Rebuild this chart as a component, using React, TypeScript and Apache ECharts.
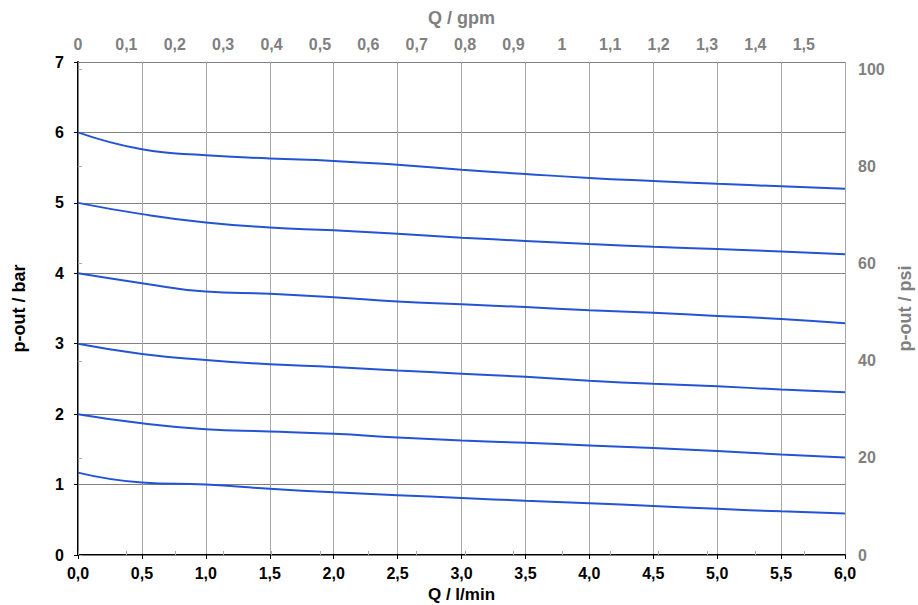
import React, { useEffect, useRef } from "react";
import * as echarts from "echarts";

const flowLpm = [0, 0.5, 1.0, 1.5, 2.0, 2.5, 3.0, 3.5, 4.0, 4.5, 5.0, 5.5, 6.0];
const curve6bar = [6.0, 5.76, 5.675, 5.63, 5.596, 5.54, 5.47, 5.41, 5.354, 5.31, 5.27, 5.235, 5.2];
const curve5bar = [5.0, 4.84, 4.72, 4.65, 4.61, 4.56, 4.505, 4.46, 4.415, 4.377, 4.344, 4.31, 4.27];
const curve4bar = [4.0, 3.86, 3.74, 3.71, 3.66, 3.6, 3.56, 3.52, 3.476, 3.44, 3.395, 3.35, 3.29];
const curve3bar = [3.0, 2.855, 2.77, 2.71, 2.67, 2.62, 2.575, 2.53, 2.475, 2.43, 2.395, 2.35, 2.31];
const curve2bar = [2.0, 1.87, 1.785, 1.755, 1.72, 1.67, 1.627, 1.593, 1.556, 1.518, 1.475, 1.428, 1.385];
const curve1bar = [1.17, 1.03, 1.0, 0.94, 0.89, 0.85, 0.81, 0.77, 0.735, 0.695, 0.655, 0.62, 0.59];
const curves = [curve6bar, curve5bar, curve4bar, curve3bar, curve2bar, curve1bar];

const LPM_PER_GPM = 3.785;
const PSI_PER_BAR = 14.5038;
const X_MAX = 6;
const Y_MAX = 7;

const FONT = "Liberation Sans, Arial, sans-serif";
const GRAY = "#808080";

const comma = (v: number, d: number) => v.toFixed(d).replace(".", ",");

export default function App() {
  const ref = useRef<HTMLDivElement>(null);
  useEffect(() => {
    if (!ref.current) return;
    const chart = echarts.init(ref.current, undefined, { renderer: "svg" });
    chart.setOption({
      animation: false,
      backgroundColor: "#ffffff",
      grid: { left: 78, right: 73, top: 62, bottom: 50, containLabel: false, outerBoundsMode: "none" },
      xAxis: [
        {
          type: "value",
          position: "bottom",
          min: 0,
          max: X_MAX,
          interval: 0.5,
          name: "Q / l/min",
          nameLocation: "middle",
          nameGap: 31,
          nameTextStyle: { fontFamily: FONT, fontWeight: "bold", fontSize: 17, color: "#000" },
          axisLine: { lineStyle: { color: "#000", width: 2 } },
          axisTick: { show: true, inside: false, length: 4, lineStyle: { color: "#000", width: 1 } },
          axisLabel: {
            formatter: (v: number) => comma(v, 1),
            fontFamily: FONT,
            fontWeight: "bold",
            fontSize: 16,
            color: "#000",
            margin: 10,
          },
          splitLine: { show: true, lineStyle: { color: "#a8a8a8", width: 1 } },
        },
        {
          type: "value",
          position: "top",
          min: 0,
          max: X_MAX / LPM_PER_GPM,
          interval: 0.1,
          name: "Q / gpm",
          nameLocation: "middle",
          nameGap: 35,
          nameTextStyle: { fontFamily: FONT, fontWeight: "bold", fontSize: 18, color: GRAY },
          axisLine: { lineStyle: { color: GRAY, width: 1 } },
          axisTick: { show: true, inside: false, length: 4, lineStyle: { color: "#aaa", width: 1 } },
          axisLabel: {
            formatter: (v: number) => (Math.abs(v - Math.round(v)) < 1e-9 ? String(Math.round(v)) : comma(v, 1)),
            fontFamily: FONT,
            fontWeight: "bold",
            fontSize: 16,
            color: GRAY,
            margin: 10,
            showMaxLabel: false,
          },
          splitLine: { show: false },
        },
      ],
      yAxis: [
        {
          type: "value",
          position: "left",
          min: 0,
          max: Y_MAX,
          interval: 1,
          name: "p-out / bar",
          nameLocation: "middle",
          nameGap: 50,
          nameRotate: 90,
          nameTextStyle: { fontFamily: FONT, fontWeight: "bold", fontSize: 18, color: "#000" },
          axisLine: { show: true, lineStyle: { color: "#000", width: 2 } },
          axisTick: { show: true, inside: false, length: 4, lineStyle: { color: "#000", width: 1 } },
          axisLabel: {
            fontFamily: FONT,
            fontWeight: "bold",
            fontSize: 16,
            color: "#000",
            margin: 14,
          },
          splitLine: { show: true, lineStyle: { color: "#808080", width: 1 } },
        },
        {
          type: "value",
          position: "right",
          min: 0,
          max: Y_MAX * PSI_PER_BAR,
          interval: 20,
          name: "p-out / psi",
          nameLocation: "middle",
          nameGap: 46,
          nameRotate: 90,
          nameTextStyle: { fontFamily: FONT, fontWeight: "bold", fontSize: 18, color: GRAY },
          axisLine: { show: true, lineStyle: { color: GRAY, width: 1 } },
          axisTick: { show: true, inside: false, length: 4, lineStyle: { color: "#aaa", width: 1 } },
          axisLabel: {
            fontFamily: FONT,
            fontWeight: "bold",
            fontSize: 16,
            color: GRAY,
            margin: 13,
            showMaxLabel: false,
          },
          splitLine: { show: false },
        },
      ],
      series: curves.map((c, i) => ({
        name: "curve" + i,
        type: "line",
        xAxisIndex: 0,
        yAxisIndex: 0,
        data: flowLpm.map((x, j) => [x, c[j]]),
        smooth: 0.5,
        showSymbol: false,
        symbol: "none",
        lineStyle: { color: "#2454d4", width: 2 },
      })),
    });
    return () => chart.dispose();
  }, []);
  return <div ref={ref} style={{ width: 918, height: 605, position: "absolute", left: 0, top: 0 }} />;
}
